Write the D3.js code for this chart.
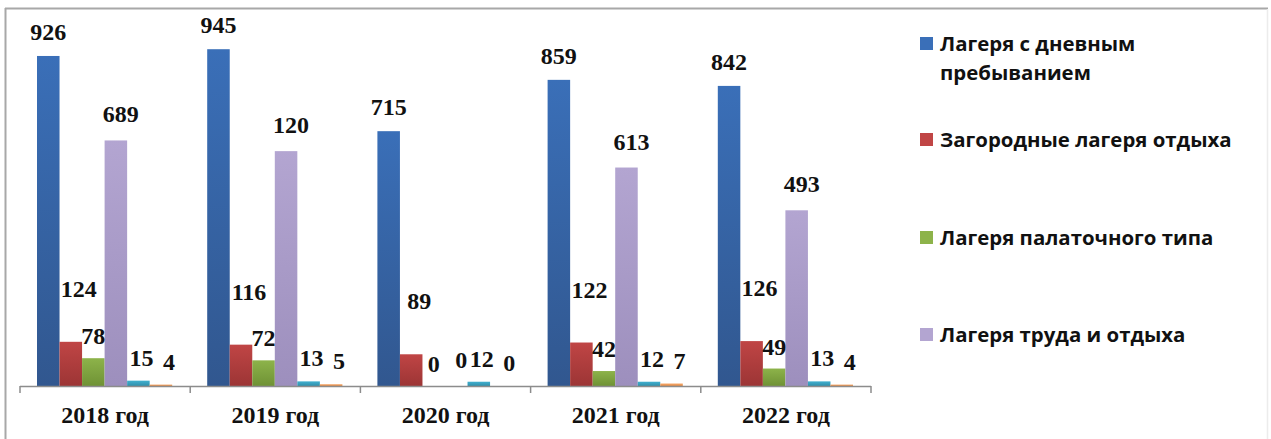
<!DOCTYPE html>
<html>
<head>
<meta charset="utf-8">
<script src="https://cdn.jsdelivr.net/npm/d3@7"></script>
<style>
  body { margin: 0; background: #fff; }
  svg { display: block; }
</style>
</head>
<body>
<div id="chart"></div>
<script>
(function() {
  // Data
  var years = ["2018 год", "2019 год", "2020 год", "2021 год", "2022 год"];

  var dnevnye = [926, 945, 715, 859, 842];
  var zagorodnye = [124, 116, 89, 122, 126];
  var palatochnye = [78, 72, 0, 42, 49];
  var trudaOtdyha = [689, 659, 0, 613, 493];
  var seriesFive = [15, 13, 12, 12, 13];
  var seriesSix = [4, 5, 0, 7, 4];

  // the printed label of the 2019 "труда и отдыха" bar differs from its height
  var trudaLabels = ["689", "120", "0", "613", "493"];

  var legendNames = [
    ["Лагеря с дневным", "пребыванием"],
    ["Загородные лагеря отдыха"],
    ["Лагеря палаточного типа"],
    ["Лагеря труда и отдыха"]
  ];

  var width = 1271, height = 439;

  var series = [
    { values: dnevnye,     color: ["#3a6fb8", "#31578f"], gap: 16, dx: 0 },
    { values: zagorodnye,  color: ["#c04545", "#9c3535"], gap: 45, dx: 8 },
    { values: palatochnye, color: ["#8db34a", "#6f9235"], gap: 14, dx: 0 },
    { values: trudaOtdyha, color: ["#b3a5d1", "#9d8fbd"], gap: 18, dx: 5, labels: trudaLabels },
    { values: seriesFive,  color: ["#41b0cf", "#2f8fab"], gap: 15, dx: 3 },
    { values: seriesSix,   color: ["#f6a86a", "#e38a45"], gap: 15, dx: 8 }
  ];

  var svg = d3.select("#chart")
    .append("svg")
    .attr("width", width)
    .attr("height", height);

  var defs = svg.append("defs");
  series.forEach(function(s, i) {
    var g = defs.append("linearGradient")
      .attr("id", "grad" + i)
      .attr("x1", 0).attr("y1", 0).attr("x2", 0).attr("y2", 1);
    g.append("stop").attr("offset", "0%").attr("stop-color", s.color[0]);
    g.append("stop").attr("offset", "100%").attr("stop-color", s.color[1]);
  });

  // frame
  svg.append("line").attr("x1", 5).attr("x2", 1268).attr("y1", 8.5).attr("y2", 8.5)
    .attr("stroke", "#a8a8a8").attr("stroke-width", 2);
  svg.append("line").attr("x1", 5.5).attr("x2", 5.5).attr("y1", 8).attr("y2", 439)
    .attr("stroke", "#a8a8a8").attr("stroke-width", 2);
  svg.append("line").attr("x1", 1267.5).attr("x2", 1267.5).attr("y1", 9).attr("y2", 439)
    .attr("stroke", "#ececec").attr("stroke-width", 1.5);

  // scales
  var x0 = d3.scaleBand()
    .domain(years)
    .range([20, 871])
    .padding(0);

  var x1 = d3.scaleBand()
    .domain(d3.range(series.length))
    .range([17, x0.bandwidth() - 18])
    .padding(0);

  var y = d3.scaleLinear()
    .domain([0, 1000])
    .range([386, 29.6]);

  var groups = svg.selectAll(".group")
    .data(years)
    .enter().append("g")
    .attr("class", "group")
    .attr("transform", function(d) { return "translate(" + x0(d) + ",0)"; });

  series.forEach(function(s, si) {
    groups.append("rect")
      .attr("x", x1(si))
      .attr("width", x1.bandwidth())
      .attr("y", function(d, i) { return y(s.values[i]); })
      .attr("height", function(d, i) { return y(0) - y(s.values[i]); })
      .attr("fill", "url(#grad" + si + ")");
  });

  series.forEach(function(s, si) {
    groups.append("text")
      .attr("x", x1(si) + x1.bandwidth() / 2 + s.dx)
      .attr("y", function(d, i) { return y(s.values[i]) - s.gap; })
      .attr("text-anchor", "middle")
      .style("font-family", "'Liberation Serif', 'Times New Roman', serif")
      .style("font-weight", "bold")
      .style("font-size", "24px")
      .attr("fill", "#111")
      .text(function(d, i) { return s.labels ? s.labels[i] : s.values[i]; });
  });

  // x axis
  var xAxis = d3.axisBottom(x0).tickSize(0).tickPadding(0);
  var axisG = svg.append("g")
    .attr("class", "axis x-axis")
    .attr("transform", "translate(0,386)")
    .call(xAxis);
  axisG.select(".domain").remove();
  axisG.append("line")
    .attr("x1", 20).attr("x2", 871).attr("y1", 0.5).attr("y2", 0.5)
    .attr("stroke", "#8c8c8c").attr("stroke-width", 1.5);
  axisG.selectAll(".bnd-tick")
    .data(years.concat(["end"]))
    .enter().append("line")
    .attr("x1", function(d, i) { return 20 + i * x0.bandwidth(); })
    .attr("x2", function(d, i) { return 20 + i * x0.bandwidth(); })
    .attr("y1", 0).attr("y2", 7)
    .attr("stroke", "#8c8c8c").attr("stroke-width", 1.5);
  axisG.selectAll(".tick text")
    .attr("y", 37)
    .attr("dy", 0)
    .attr("fill", "#111")
    .style("font-family", "'Liberation Serif', 'Times New Roman', serif")
    .style("font-weight", "bold")
    .style("font-size", "24px");

  // legend
  var legendY = [44, 140, 238, 335];
  var legend = svg.selectAll(".legend")
    .data(legendNames)
    .enter().append("g")
    .attr("class", "legend")
    .attr("transform", function(d, i) { return "translate(920," + legendY[i] + ")"; });

  legend.append("rect")
    .attr("x", 0).attr("y", -7)
    .attr("width", 13).attr("height", 13)
    .attr("fill", function(d, i) { return series[i].color[0]; });

  legend.each(function(lines) {
    var t = d3.select(this).append("text")
      .attr("x", 20)
      .attr("y", 7)
      .style("font-family", "'Open Sans', sans-serif")
      .style("font-weight", "bold")
      .style("font-size", "20.4px")
      .attr("fill", "#111");
    lines.forEach(function(line, k) {
      t.append("tspan").attr("x", 20).attr("dy", k === 0 ? 0 : 29).text(line);
    });
  });
})();
</script>
</body>
</html>
